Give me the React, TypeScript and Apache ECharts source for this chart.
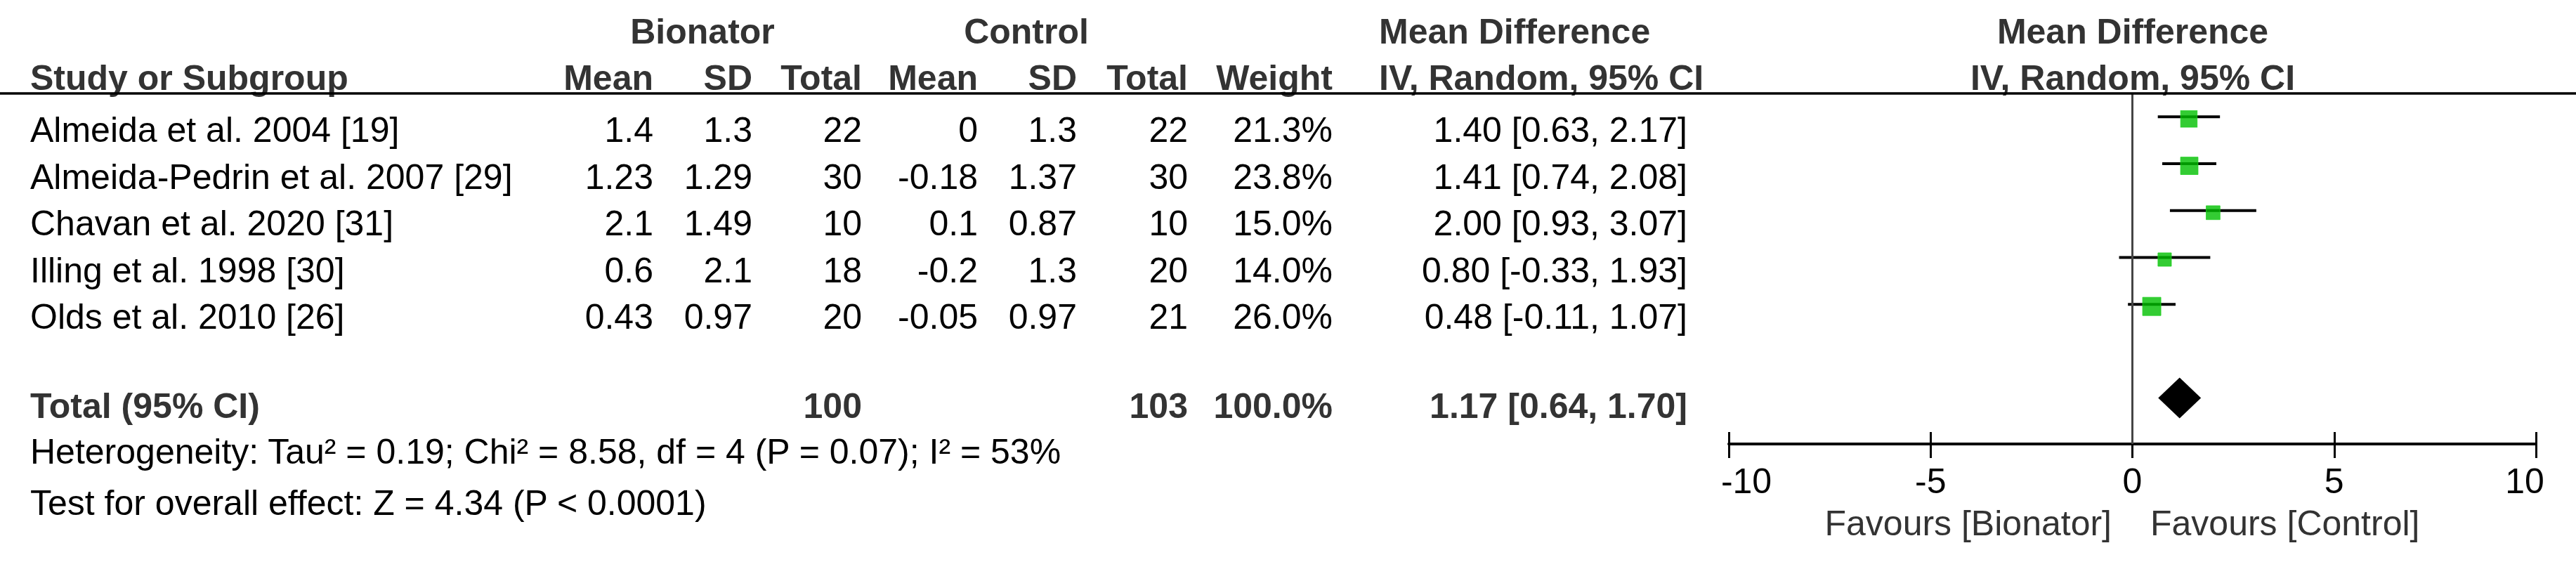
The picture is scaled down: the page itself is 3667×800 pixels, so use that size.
import React, { useEffect, useRef } from "react";
import * as echarts from "echarts";

const studies = [
  "Almeida et al. 2004 [19]",
  "Almeida-Pedrin et al. 2007 [29]",
  "Chavan et al. 2020 [31]",
  "Illing et al. 1998 [30]",
  "Olds et al. 2010 [26]",
];
const bioMean = [1.4, 1.23, 2.1, 0.6, 0.43];
const bioSD = [1.3, 1.29, 1.49, 2.1, 0.97];
const bioN = [22, 30, 10, 18, 20];
const ctlMean = [0, -0.18, 0.1, -0.2, -0.05];
const ctlSD = [1.3, 1.37, 0.87, 1.3, 0.97];
const ctlN = [22, 30, 10, 20, 21];
const weights = [21.3, 23.8, 15.0, 14.0, 26.0];
const md = [1.4, 1.41, 2.0, 0.8, 0.48];
const ciLow = [0.63, 0.74, 0.93, -0.33, -0.11];
const ciHigh = [2.17, 2.08, 3.07, 1.93, 1.07];

const totalBioN = 100;
const totalCtlN = 103;
const totalWeight = 100.0;
const totalMD = 1.17;
const totalLow = 0.64;
const totalHigh = 1.7;

const heterogeneityText =
  "Heterogeneity: Tau² = 0.19; Chi² = 8.58, df = 4 (P = 0.07); I² = 53%";
const overallText = "Test for overall effect: Z = 4.34 (P < 0.0001)";
const favoursLeft = "Favours [Bionator]";
const favoursRight = "Favours [Control]";

const FONT = '"Liberation Sans", Arial, Helvetica, sans-serif';
const FS = 50;

function txt(
  text: string,
  x: number,
  baseline: number,
  align: string,
  bold: boolean,
  fill: string
) {
  return {
    type: "text",
    x,
    y: baseline - 17,
    silent: true,
    style: {
      text,
      fill,
      align,
      verticalAlign: "middle",
      font: `${bold ? "bold " : ""}${FS}px ${FONT}`,
    },
  };
}

export default function App() {
  const ref = useRef<HTMLDivElement>(null);

  useEffect(() => {
    document.body.style.margin = "0";
    if (!ref.current) return;
    const chart = echarts.init(ref.current, null, { renderer: "svg" });

    const hdr = "#333333";
    const colX = {
      study: 43,
      bMean: 930,
      bSD: 1071,
      bN: 1227,
      cMean: 1392,
      cSD: 1533,
      cN: 1691,
      weight: 1897,
      mdLeft: 1963,
      ci: 2402,
      plotCenter: 3036,
    };

    const g: any[] = [];
    // header row 1
    g.push(txt("Bionator", 1000, 62, "center", true, hdr));
    g.push(txt("Control", 1461, 62, "center", true, hdr));
    g.push(txt("Mean Difference", colX.mdLeft, 62, "left", true, hdr));
    g.push(txt("Mean Difference", colX.plotCenter, 62, "center", true, hdr));
    // header row 2
    g.push(txt("Study or Subgroup", colX.study, 128, "left", true, hdr));
    g.push(txt("Mean", colX.bMean, 128, "right", true, hdr));
    g.push(txt("SD", colX.bSD, 128, "right", true, hdr));
    g.push(txt("Total", colX.bN, 128, "right", true, hdr));
    g.push(txt("Mean", colX.cMean, 128, "right", true, hdr));
    g.push(txt("SD", colX.cSD, 128, "right", true, hdr));
    g.push(txt("Total", colX.cN, 128, "right", true, hdr));
    g.push(txt("Weight", colX.weight, 128, "right", true, hdr));
    g.push(txt("IV, Random, 95% CI", colX.mdLeft, 128, "left", true, hdr));
    g.push(txt("IV, Random, 95% CI", colX.plotCenter, 128, "center", true, hdr));
    // header rule
    g.push({
      type: "line",
      silent: true,
      shape: { x1: 0, y1: 133, x2: 3667, y2: 133 },
      style: { stroke: "#000", lineWidth: 3.5 },
      z: 10,
    });

    studies.forEach((s, i) => {
      const b = 202 + 66.5 * i;
      g.push(txt(s, colX.study, b, "left", false, "#000"));
      g.push(txt(String(bioMean[i]), colX.bMean, b, "right", false, "#000"));
      g.push(txt(String(bioSD[i]), colX.bSD, b, "right", false, "#000"));
      g.push(txt(String(bioN[i]), colX.bN, b, "right", false, "#000"));
      g.push(txt(String(ctlMean[i]), colX.cMean, b, "right", false, "#000"));
      g.push(txt(String(ctlSD[i]), colX.cSD, b, "right", false, "#000"));
      g.push(txt(String(ctlN[i]), colX.cN, b, "right", false, "#000"));
      g.push(txt(weights[i].toFixed(1) + "%", colX.weight, b, "right", false, "#000"));
      g.push(
        txt(
          `${md[i].toFixed(2)} [${ciLow[i].toFixed(2)}, ${ciHigh[i].toFixed(2)}]`,
          colX.ci,
          b,
          "right",
          false,
          "#000"
        )
      );
    });

    const tb = 595;
    g.push(txt("Total (95% CI)", colX.study, tb, "left", true, hdr));
    g.push(txt(String(totalBioN), colX.bN, tb, "right", true, hdr));
    g.push(txt(String(totalCtlN), colX.cN, tb, "right", true, hdr));
    g.push(txt(totalWeight.toFixed(1) + "%", colX.weight, tb, "right", true, hdr));
    g.push(
      txt(
        `${totalMD.toFixed(2)} [${totalLow.toFixed(2)}, ${totalHigh.toFixed(2)}]`,
        colX.ci,
        tb,
        "right",
        true,
        hdr
      )
    );
    g.push(txt(heterogeneityText, colX.study, 660, "left", false, "#000"));
    g.push(txt(overallText, colX.study, 733, "left", false, "#000"));
    g.push(txt(favoursLeft, 3006, 762, "right", false, hdr));
    g.push(txt(favoursRight, 3061, 762, "left", false, hdr));

    const rows = studies.map((_, i) => i + 1);
    const totalRow = 7;

    const labelRich = {
      n: { fontSize: FS, fontFamily: FONT, color: "#000", lineHeight: FS },
      mn: { fontSize: FS, fontFamily: FONT, color: "#000", lineHeight: FS, padding: [0, 0, 0, 50] },
      mx: { fontSize: FS, fontFamily: FONT, color: "#000", lineHeight: FS, padding: [0, 32, 0, 0] },
    };

    chart.setOption({
      animation: false,
      backgroundColor: "#ffffff",
      grid: { left: 2461, width: 1149, top: 133, height: 499 },
      xAxis: [
        {
          type: "value",
          min: -10,
          max: 10,
          interval: 5,
          position: "bottom",
          axisLine: { show: true, onZero: false, lineStyle: { color: "#000", width: 4 } },
          axisTick: { show: true, inside: false, length: 20, lineStyle: { color: "#000", width: 3 } },
          splitLine: { show: false },
          axisLabel: {
            show: true,
            margin: 28,
            formatter: (v: number) =>
              v === -10 ? `{mn|${v}}` : v === 10 ? `{mx|${v}}` : `{n|${v}}`,
            rich: labelRich,
          },
        },
        {
          type: "value",
          min: -10,
          max: 10,
          interval: 5,
          position: "bottom",
          axisLine: { show: false, onZero: false },
          axisTick: { show: true, inside: true, length: 17, lineStyle: { color: "#000", width: 3 } },
          splitLine: { show: false },
          axisLabel: { show: false },
        },
      ],
      yAxis: {
        type: "value",
        inverse: true,
        min: 0.5,
        max: 7.98,
        show: false,
      },
      series: [
        {
          type: "custom",
          name: "ci",
          xAxisIndex: 0,
          renderItem: (params: any, api: any) => {
            const p1 = api.coord([api.value(0), api.value(2)]);
            const p2 = api.coord([api.value(1), api.value(2)]);
            return {
              type: "line",
              shape: { x1: p1[0], y1: p1[1], x2: p2[0], y2: p2[1] },
              style: { stroke: "#000", lineWidth: 4 },
            };
          },
          encode: { x: [0, 1], y: 2 },
          data: rows.map((r, i) => [ciLow[i], ciHigh[i], r]),
          markLine: {
            silent: true,
            symbol: "none",
            label: { show: false },
            lineStyle: { color: "#444", width: 3, type: "solid" },
            data: [{ xAxis: 0 }],
          },
          z: 2,
        },
        {
          type: "scatter",
          name: "md",
          symbol: "rect",
          symbolSize: (_v: any, p: any) => 5.1 * Math.sqrt(weights[p.dataIndex]),
          symbolOffset: [0, 3],
          itemStyle: { color: "#00bf00", borderColor: "#22d022", borderWidth: 1 },
          data: rows.map((r, i) => [md[i], r]),
          z: 3,
        },
        {
          type: "custom",
          name: "total",
          renderItem: (params: any, api: any) => {
            const lo = api.coord([api.value(0), api.value(3)]);
            const mid = api.coord([api.value(1), api.value(3)]);
            const hi = api.coord([api.value(2), api.value(3)]);
            const h = 29;
            return {
              type: "polygon",
              shape: {
                points: [
                  [lo[0], lo[1]],
                  [mid[0], mid[1] - h],
                  [hi[0], hi[1]],
                  [mid[0], mid[1] + h],
                ],
              },
              style: { fill: "#000" },
            };
          },
          encode: { x: [0, 1, 2], y: 3 },
          data: [[totalLow, totalMD, totalHigh, totalRow]],
          z: 3,
        },
      ],
      graphic: g,
    });

    return () => chart.dispose();
  }, []);

  return <div ref={ref} style={{ width: 3667, height: 800 }} />;
}
